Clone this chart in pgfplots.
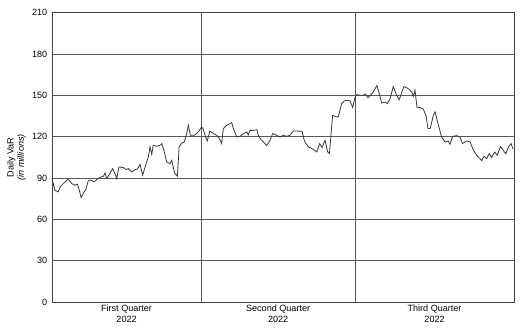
\documentclass[border=0pt]{standalone}
\usepackage{pgfplots}
\pgfplotsset{compat=1.18}
\usepackage{fontspec}
\setmainfont{Liberation Sans}
\begin{document}
\begin{tikzpicture}
\begin{axis}[
  name=ax,
  scale only axis,
  width=346.5pt, height=217.1pt,
  xmin=0, xmax=189,
  ymin=0, ymax=210,
  ytick={0,30,60,90,120,150,180,210},
  ymajorgrids,
  grid style={color=black!65, line width=0.55pt},
  xtick={30.5,92.5,156.5},
  xticklabels={First Quarter\\2022, Second Quarter\\2022, Third Quarter\\2022},
  xticklabel style={align=center, font=\fontsize{6.8}{7.6}\selectfont, yshift=1pt},
  yticklabel style={font=\fontsize{6.8}{8}\selectfont, xshift=0pt},
  major tick length=0pt,
  extra x ticks={61,124},
  extra x tick labels={},
  extra x tick style={xmajorgrids=true, grid style={color=black!65, line width=0.55pt}},
  axis line style={black!75, line width=0.6pt},
  /pgf/number format/assume math mode=true,
  ylabel={Daily VaR\\\textit{(in millions)}},
  ylabel style={align=center, font=\fontsize{6.8}{7.6}\selectfont, yshift=-2pt},
  clip=false,
]
\addplot[black!78, line width=0.6pt] coordinates {
(0,89.5) (1.2,81) (2.6,79.9) (3.3,83.5) (4.6,85.9) (6.1,88.5) (6.7,89) (8.1,85.9)
(9.4,84.7) (10.4,85.5) (11.2,81) (11.9,75.8) (12.8,78.7) (13.9,82) (14.9,88.3)
(16.2,88.3) (17.2,87.1) (18.3,88.8) (19.6,90.3) (21.0,91.2) (21.7,93.6) (22.4,89.5)
(23.7,93.2) (24.8,96.8) (25.8,93) (26.5,89.5) (27.4,98) (29.2,97.5) (30.3,96.1)
(31.2,96.8) (32.6,94.4) (34.0,96) (35.0,96.5) (36.0,99.9) (37.1,92) (38.1,98)
(39.4,105.2) (40.1,112.5) (40.8,107.2) (41.4,113.7) (42.8,113) (44.2,113.7)
(44.9,114.9) (45.8,110) (46.9,101.6) (48.3,100.4) (49.0,102.8) (49.7,97) (50.3,93.2)
(51.3,91.5) (52.0,112.5) (53.1,115.4) (54.1,116.1) (55.0,121.5) (55.8,128.2)
(56.6,120.9) (58.1,120.9) (59.2,122.2) (60.3,124.5) (61.2,127)
(61.8,125.8) (62.6,120.9) (63.5,116.8) (64.6,124) (66.0,122.2) (67.4,120.9)
(68.5,118.5) (69.4,114.9) (70.1,125.8) (71.5,128.2) (73.5,130.1) (74.2,125.8)
(75.6,119.7) (76.9,120.2) (78.3,122.2) (79.7,123.3) (80.3,121.2) (81.0,124.5)
(82.4,124.5) (83.8,125) (84.4,120.9) (85.5,117.8) (86.5,116.1) (87.8,113.5)
(89.2,117.3) (90.3,122.2) (91.9,120.9) (93.3,119.7) (94.6,120.9) (96.0,120.2)
(97.4,121) (98.7,124) (100.8,124) (102.3,123.8) (103.2,117.3) (103.9,114.9)
(104.9,112.5) (106.3,111.3) (107.2,110.5) (108.3,108.8) (109.5,114.9) (110.5,112)
(111.7,117.3) (112.8,108.8) (113.5,107.7) (114.8,135.4) (116.0,134.5) (117.1,134.2)
(118.5,143.9) (119.5,145.8) (120.7,146.3) (121.9,146) (123.0,141.2) (124.0,148.7)
(124.7,150.4) (126.0,150) (127.4,149.9) (128.1,151) (129.3,148.2) (131.1,151.4)
(132.9,157) (133.5,153.5) (134.9,144.3) (136.3,145) (137.2,143.9) (138.3,147.5)
(139.6,156.4) (141.0,149.9) (142.1,146.8) (143.1,152.3) (144.0,156.4) (145.8,154.7)
(147.2,152.3) (147.8,149.2) (148.5,153.5) (149.3,141.4) (150.6,141) (151.9,140)
(153.1,134.5) (153.8,125.8) (154.7,125.8) (156.0,135.4) (156.7,138) (158.1,128)
(159.4,119.7) (160.8,116.1) (162.1,116.8) (162.8,114.4) (163.9,120.2) (165.6,120.7)
(166.9,119.7) (167.9,115) (169.7,116.8) (171.0,116.3) (172.4,110) (173.7,106.4)
(175.1,104) (175.8,102.5) (176.7,105.7) (177.8,104) (178.9,107.7) (179.8,104.8)
(181.1,108.8) (182.1,106.4) (183.5,112.8) (184.5,110.3) (185.6,107.5) (186.8,112.7)
(187.8,114.9) (188.6,111)
};
\end{axis}
\pgfresetboundingbox
\path ([xshift=-39pt, yshift=-24.75pt]ax.south west) rectangle ([xshift=9.75pt, yshift=9.4pt]ax.north east);
\end{tikzpicture}
\end{document}
